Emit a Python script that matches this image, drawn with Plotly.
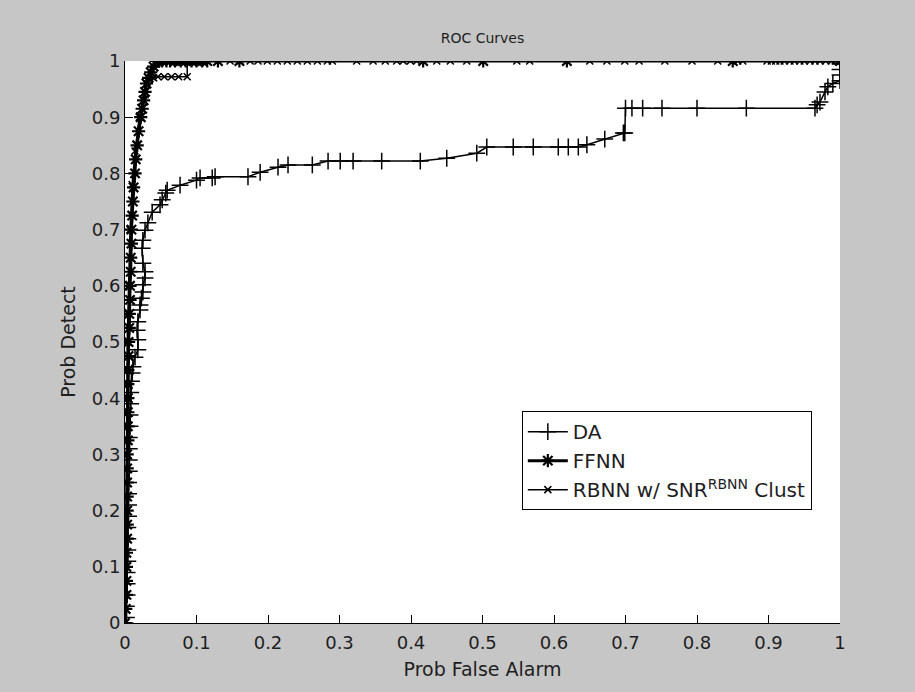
import plotly.graph_objects as go

# DA curve
da_x = [0.0, 0.002, 0.002, 0.003, 0.003, 0.003, 0.004, 0.004, 0.004, 0.004, 0.005, 0.005, 0.005,
        0.005, 0.006, 0.006, 0.006, 0.006, 0.007, 0.007, 0.008, 0.008, 0.009, 0.010, 0.011, 0.014,
        0.018, 0.018, 0.017, 0.018, 0.021, 0.021, 0.023, 0.025, 0.025, 0.028, 0.028, 0.025, 0.024,
        0.025, 0.028, 0.032, 0.038, 0.049, 0.052, 0.057, 0.059, 0.077, 0.100, 0.105, 0.122, 0.126,
        0.172, 0.189, 0.214, 0.228, 0.262, 0.284, 0.301, 0.319, 0.359, 0.413, 0.450, 0.492, 0.506,
        0.543, 0.571, 0.606, 0.620, 0.634, 0.646, 0.671, 0.697, 0.699, 0.700, 0.709, 0.724, 0.751,
        0.800, 0.869, 0.965, 0.968, 0.972, 0.979, 0.983, 0.990, 1.0, 1.0, 1.0, 1.0, 1.0]
da_y = [0.0, 0.01, 0.03, 0.05, 0.07, 0.09, 0.11, 0.13, 0.15, 0.17, 0.19, 0.21, 0.23,
        0.25, 0.27, 0.29, 0.31, 0.33, 0.35, 0.37, 0.39, 0.41, 0.43, 0.445, 0.456, 0.473,
        0.486, 0.504, 0.521, 0.536, 0.557, 0.566, 0.578, 0.589, 0.602, 0.614, 0.625, 0.640, 0.667,
        0.681, 0.699, 0.712, 0.731, 0.744, 0.753, 0.765, 0.770, 0.779, 0.788, 0.792, 0.792, 0.794,
        0.794, 0.802, 0.811, 0.815, 0.815, 0.822, 0.822, 0.822, 0.822, 0.822, 0.827, 0.836, 0.847,
        0.847, 0.847, 0.847, 0.847, 0.847, 0.851, 0.861, 0.872, 0.872, 0.916, 0.916, 0.916, 0.916,
        0.916, 0.916, 0.916, 0.922, 0.927, 0.945, 0.954, 0.960, 0.965, 0.975, 0.985, 0.995, 1.0]

# FFNN curve
ffnn_x = [0.0, 0.001, 0.002, 0.002, 0.002, 0.002, 0.003, 0.003, 0.003, 0.003, 0.003, 0.003,
          0.003, 0.004, 0.004, 0.004, 0.004, 0.004, 0.004, 0.005, 0.005, 0.006, 0.006, 0.007,
          0.007, 0.008, 0.008, 0.009, 0.009, 0.010, 0.011, 0.012, 0.014, 0.015, 0.017, 0.019,
          0.022, 0.024, 0.026, 0.028, 0.030, 0.033, 0.036, 0.040, 0.044, 0.047, 0.052, 0.058,
          0.063, 0.070, 0.078, 0.085, 0.093, 0.100, 0.108, 0.115, 0.130, 0.160, 0.417, 0.501,
          0.618, 0.850, 1.0]
ffnn_y = [0.0, 0.025, 0.05, 0.075, 0.10, 0.125, 0.15, 0.175, 0.20, 0.225, 0.25, 0.275,
          0.30, 0.325, 0.35, 0.375, 0.40, 0.425, 0.45, 0.475, 0.50, 0.525, 0.55, 0.575,
          0.60, 0.625, 0.65, 0.675, 0.70, 0.725, 0.75, 0.775, 0.80, 0.825, 0.85, 0.875,
          0.90, 0.915, 0.93, 0.945, 0.96, 0.97, 0.98, 0.99, 1.0, 1.0, 1.0, 1.0,
          1.0, 1.0, 1.0, 1.0, 1.0, 1.0, 1.0, 1.0, 1.0, 1.0, 1.0, 1.0,
          1.0, 1.0, 1.0]

# RBNN w/ SNR clustering curve
rbnn_x = [0.0, 0.001, 0.001, 0.001, 0.002, 0.002, 0.002, 0.002, 0.003, 0.003, 0.003, 0.004,
          0.005, 0.007, 0.010, 0.014, 0.020, 0.028, 0.040, 0.046, 0.055, 0.065, 0.075, 0.087,
          0.087, 0.095, 0.105, 0.115, 0.147, 0.161, 0.175, 0.186, 0.199, 0.213, 0.227, 0.241,
          0.255, 0.269, 0.283, 0.290, 0.324, 0.347, 0.364, 0.380, 0.389, 0.399, 0.408, 0.436,
          0.455, 0.478, 0.548, 0.566, 0.650, 0.674, 0.699, 0.719, 0.755, 0.793, 0.829, 0.857,
          0.864, 0.898, 0.904, 0.910, 0.916, 0.922, 0.930, 0.936, 0.944, 0.950, 0.958, 0.965,
          0.972, 0.980, 0.988, 0.994, 1.0]
rbnn_y = [0.0, 0.05, 0.10, 0.15, 0.20, 0.25, 0.30, 0.35, 0.40, 0.45, 0.50, 0.55,
          0.60, 0.70, 0.78, 0.84, 0.90, 0.94, 0.97, 0.972, 0.972, 0.972, 0.972, 0.972,
          1.0, 1.0, 1.0, 1.0, 1.0, 1.0, 1.0, 1.0, 1.0, 1.0, 1.0, 1.0,
          1.0, 1.0, 1.0, 1.0, 1.0, 1.0, 1.0, 1.0, 1.0, 1.0, 1.0, 1.0,
          1.0, 1.0, 1.0, 1.0, 1.0, 1.0, 1.0, 1.0, 1.0, 1.0, 1.0, 1.0,
          1.0, 1.0, 1.0, 1.0, 1.0, 1.0, 1.0, 1.0, 1.0, 1.0, 1.0, 1.0,
          1.0, 1.0, 1.0, 1.0, 1.0]

tick_vals = [0, 0.1, 0.2, 0.3, 0.4, 0.5, 0.6, 0.7, 0.8, 0.9, 1]
tick_text = ["0", "0.1", "0.2", "0.3", "0.4", "0.5", "0.6", "0.7", "0.8", "0.9", "1"]

FONT = "DejaVu Sans, Verdana, sans-serif"
TXT = "#1e1e1e"

fig = go.Figure()
fig.add_trace(go.Scatter(
    x=da_x, y=da_y, mode="lines+markers", name="DA",
    line=dict(color="black", width=1.5),
    marker=dict(symbol="cross-thin-open", size=12, color="black",
                line=dict(color="black", width=1.5)),
))
fig.add_trace(go.Scatter(
    x=ffnn_x, y=ffnn_y, mode="lines+markers", name="FFNN",
    line=dict(color="black", width=3),
    marker=dict(symbol="asterisk-open", size=11, color="black",
                line=dict(color="black", width=2.2)),
))
fig.add_trace(go.Scatter(
    x=rbnn_x, y=rbnn_y, mode="lines+markers", name="RBNN w/ SNR<sup>RBNN</sup> Clust",
    line=dict(color="black", width=1.5),
    marker=dict(symbol="x-thin-open", size=7, color="black",
                line=dict(color="black", width=1.5)),
))

axis_common = dict(
    range=[0, 1], tickvals=tick_vals, ticktext=tick_text,
    ticks="inside", ticklen=8, tickcolor="black", tickwidth=1,
    showline=True, linecolor="black", linewidth=1, mirror=False,
    showgrid=False, zeroline=False,
    tickfont=dict(family=FONT, size=18, color=TXT),
)

fig.update_layout(
    width=915, height=692,
    margin=dict(l=125, r=75, t=61, b=69),
    paper_bgcolor="#c6c6c6",
    plot_bgcolor="white",
    font=dict(family=FONT, size=19, color=TXT),
    title=dict(text="ROC Curves", x=(125 + 840) / 2 / 915, xanchor="center",
               y=1 - 38 / 692, yanchor="middle",
               font=dict(family=FONT, size=14, color=TXT)),
    xaxis=dict(**axis_common, ticklabelstandoff=3,
               title=dict(text="Prob False Alarm", standoff=11,
                          font=dict(family=FONT, size=19, color=TXT))),
    yaxis=dict(**axis_common,
               title=dict(text="Prob Detect", standoff=11,
                          font=dict(family=FONT, size=19, color=TXT))),
    legend=dict(x=0.555, y=0.377, xanchor="left", yanchor="top",
                bgcolor="white", bordercolor="black", borderwidth=1,
                font=dict(family=FONT, size=20, color=TXT),
                tracegroupgap=0, itemwidth=40),
    showlegend=True,
)

fig.write_html("out.html")
